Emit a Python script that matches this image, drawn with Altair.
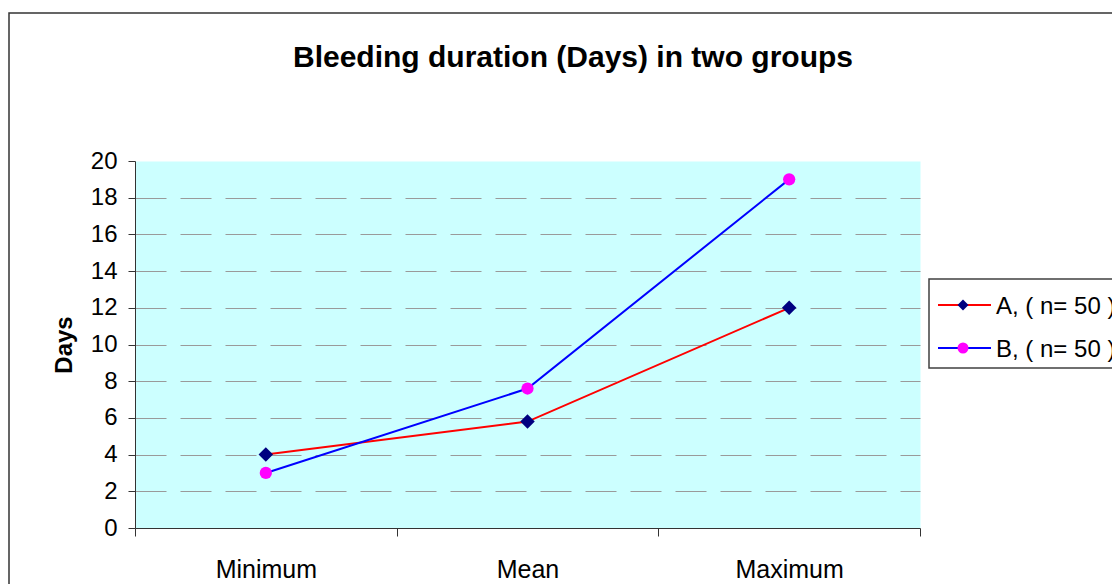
import altair as alt
import pandas as pd

categories = ["Minimum", "Mean", "Maximum"]
series = ["A, ( n= 50 )", "B, ( n= 50 )"]
values_a = [4, 5.8, 12]
values_b = [3, 7.6, 19]
y_ticks = [0, 2, 4, 6, 8, 10, 12, 14, 16, 18, 20]
title_text = "Bleeding duration (Days) in two groups"
y_title = "Days"

line_colors = ["#FF0000", "#0000FF"]
marker_colors = ["#000080", "#FF00FF"]
marker_shapes = ["diamond", "circle"]
marker_sizes = [210, 150]

FONT = "Liberation Sans"

rows = []
for s, vals in zip(series, [values_a, values_b]):
    for c, v in zip(categories, vals):
        rows.append({"stat": c, "series": s, "value": v})
df = pd.DataFrame(rows)
leg = pd.DataFrame({"series": series, "row": [0, 1]})
one = pd.DataFrame({"t": [title_text]})

color_scale = alt.Scale(domain=series, range=line_colors)
fill_scale = alt.Scale(domain=series, range=marker_colors)
shape_scale = alt.Scale(domain=series, range=marker_shapes)

x_enc = alt.X(
    "stat:N",
    sort=categories,
    scale=alt.Scale(type="band", domain=categories, paddingInner=0, paddingOuter=0),
    axis=alt.Axis(
        title=None, tickBand="extent", tickSize=8, labelFontSize=25, labelFont=FONT,
        labelColor="#000000", labelBaseline="alphabetic", labelPadding=41, labelAngle=0,
        domainColor="#333333", tickColor="#333333", grid=False,
    ),
)
y_enc = alt.Y(
    "value:Q",
    scale=alt.Scale(domain=[0, 20], nice=False, zero=True),
    axis=alt.Axis(
        values=y_ticks, tickCount=11, labelOverlap=False, tickSize=7, labelPadding=11,
        labelFontSize=24, labelFont=FONT,
        labelColor="#000000", title=y_title, titleFontSize=24, titleFont=FONT,
        titleFontWeight="bold", titleColor="#000000", titleX=-64, titleY=183.5,
        titleAngle=270, titleAlign="center", titleBaseline="alphabetic",
        grid=True, gridDash=[31, 14], gridColor="#9a9a9a", gridWidth=1.2,
        gridOpacity={"condition": {"test": "datum.value === 0 || datum.value === 20", "value": 0}, "value": 1},
        domainColor="#333333", tickColor="#333333",
    ),
)

frame = alt.Chart(one).mark_rect(fillOpacity=0, stroke="#333333", strokeWidth=1.5).encode(
    x=alt.value(-126), x2=alt.value(1000), y=alt.value(-148), y2=alt.value(500)
)

lines = alt.Chart(df).mark_line(strokeWidth=2).encode(
    x=x_enc, y=y_enc,
    color=alt.Color("series:N", scale=color_scale, legend=None),
)
points = alt.Chart(df).mark_point(filled=True, strokeWidth=0, opacity=1).encode(
    x=x_enc, y=y_enc,
    fill=alt.Fill("series:N", scale=fill_scale, legend=None),
    shape=alt.Shape("series:N", scale=shape_scale, legend=None),
    size=alt.Size("series:N", scale=alt.Scale(domain=series, range=marker_sizes), legend=None),
)
main = alt.layer(lines, points)

leg_y = alt.Y("row:Q", scale=alt.Scale(domain=[0, 1], range=[144, 187]), axis=None)
leg_box = alt.Chart(one).mark_rect(fillOpacity=0, stroke="#404040", strokeWidth=1.5).encode(
    x=alt.value(794), x2=alt.value(1000), y=alt.value(118), y2=alt.value(207)
)
leg_rule = alt.Chart(leg).mark_rule(strokeWidth=2).encode(
    x=alt.value(803), x2=alt.value(856), y=leg_y,
    color=alt.Color("series:N", scale=color_scale, legend=None),
)
leg_pt = alt.Chart(leg).mark_point(filled=True, strokeWidth=0, opacity=1).encode(
    x=alt.value(828), y=leg_y,
    fill=alt.Fill("series:N", scale=fill_scale, legend=None),
    shape=alt.Shape("series:N", scale=shape_scale, legend=None),
    size=alt.value(121),
)
leg_txt = alt.Chart(leg).mark_text(
    align="left", baseline="alphabetic", dy=8.5, fontSize=24, font=FONT, color="#000000"
).encode(x=alt.value(861), y=leg_y, text="series:N")

title = alt.Chart(one).mark_text(
    align="center", baseline="alphabetic", fontSize=30, fontWeight="bold", font=FONT, color="#000000"
).encode(x=alt.value(438), y=alt.value(-94), text="t:N")

chart = alt.layer(
    frame, main, leg_box, leg_rule, leg_pt, leg_txt, title
).resolve_scale(y="independent").properties(
    width=785, height=367,
    autosize=alt.AutoSizeParams(type="none"),
    padding={"left": 127, "top": 153, "right": 192, "bottom": 56},
    background="#FFFFFF",
).configure_view(fill="#CCFFFF", stroke="transparent")

chart.save("out.html", embed_options={"renderer": "svg", "actions": False})
